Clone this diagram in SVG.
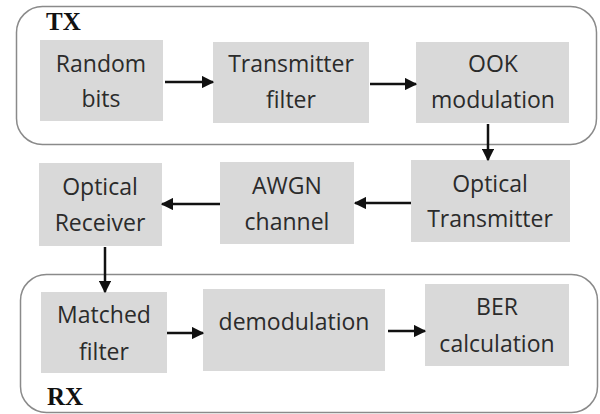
<svg xmlns="http://www.w3.org/2000/svg" width="600" height="414" viewBox="0 0 600 414">
<defs>
<marker id="ah" viewBox="0 0 10 10" refX="9" refY="5" markerWidth="5" markerHeight="5" orient="auto" markerUnits="strokeWidth">
<path d="M0,0 L10,5 L0,10 z" fill="#111"/>
</marker>
<style>
.cont{fill:#fff;stroke:#8a8a8a;stroke-width:1.5}
.box{fill:#d9d9d9}
.t{font-family:"Open Sans","Noto Sans",sans-serif;font-size:23px;fill:#2b2b2b;text-anchor:middle}
.lbl{font-family:"Liberation Serif",serif;font-size:25px;font-weight:bold;fill:#111}
.c{stroke:#111;stroke-width:2.5;fill:none;marker-end:url(#ah)}
</style>
</defs>
<rect width="600" height="414" fill="#fff"/>
<g id="TX">
<rect class="cont" x="16.5" y="6.5" width="580" height="138" rx="26"/>
<text class="lbl" x="46" y="30">TX</text>
</g>
<g id="RX">
<rect class="cont" x="20.5" y="274.5" width="577" height="138" rx="26"/>
<text class="lbl" x="47" y="405">RX</text>
</g>
<g id="random-bits">
<rect class="box" x="40" y="40" width="123" height="81"/>
<text class="t" x="101" y="72">Random</text>
<text class="t" x="101" y="107">bits</text>
</g>
<g id="transmitter-filter">
<rect class="box" x="213" y="42" width="156" height="81"/>
<text class="t" x="291" y="72">Transmitter</text>
<text class="t" x="291" y="108">filter</text>
</g>
<g id="ook-modulation">
<rect class="box" x="416" y="42" width="153" height="81"/>
<text class="t" x="493" y="72">OOK</text>
<text class="t" x="493" y="108">modulation</text>
</g>
<g id="optical-transmitter">
<rect class="box" x="411" y="160" width="159" height="82"/>
<text class="t" x="490" y="192">Optical</text>
<text class="t" x="490" y="227">Transmitter</text>
</g>
<g id="awgn-channel">
<rect class="box" x="220" y="162" width="134" height="82"/>
<text class="t" x="287" y="194">AWGN</text>
<text class="t" x="287" y="230">channel</text>
</g>
<g id="optical-receiver">
<rect class="box" x="39" y="163" width="123" height="83"/>
<text class="t" x="100" y="195">Optical</text>
<text class="t" x="100" y="231">Receiver</text>
</g>
<g id="matched-filter">
<rect class="box" x="41" y="292" width="126" height="81"/>
<text class="t" x="104" y="323">Matched</text>
<text class="t" x="104" y="360">filter</text>
</g>
<g id="demodulation">
<rect class="box" x="203" y="289" width="182" height="82"/>
<text class="t" x="294" y="330">demodulation</text>
</g>
<g id="ber-calculation">
<rect class="box" x="425" y="284" width="144" height="82"/>
<text class="t" x="497" y="315">BER</text>
<text class="t" x="497" y="352">calculation</text>
</g>
<g id="connectors">
<line class="c" x1="165" y1="82" x2="213" y2="82"/>
<line class="c" x1="370" y1="84" x2="416" y2="84"/>
<line class="c" x1="488" y1="124" x2="488" y2="160"/>
<line class="c" x1="411" y1="203" x2="355" y2="203"/>
<line class="c" x1="220" y1="204" x2="162" y2="204"/>
<line class="c" x1="105" y1="247" x2="105" y2="292"/>
<line class="c" x1="167" y1="333" x2="203" y2="333"/>
<line class="c" x1="388" y1="331" x2="425" y2="331"/>
</g>
</svg>
